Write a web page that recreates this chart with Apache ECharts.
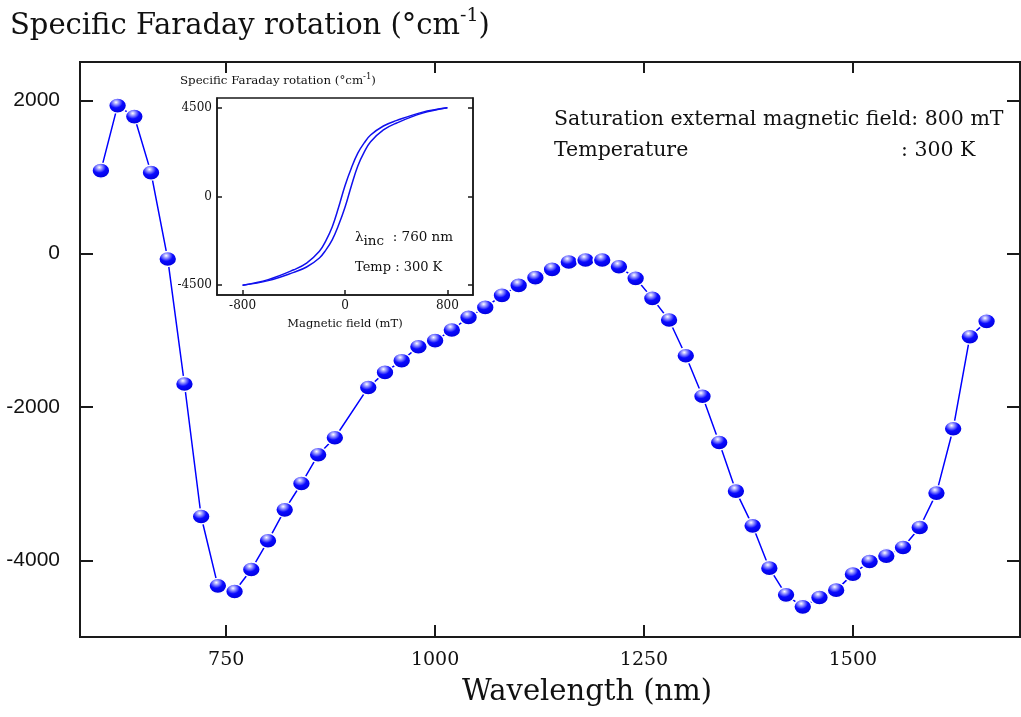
<!DOCTYPE html>
<html>
<head>
<meta charset="utf-8">
<script src="https://cdn.jsdelivr.net/npm/echarts@6.0.0/dist/echarts.min.js"></script>
<style>
  html, body { margin: 0; padding: 0; background: #fff; }
  #chart { width: 1021px; height: 717px; }
</style>
</head>
<body>
<div id="chart"></div>
<script>
// main spectrum: wavelength (nm) vs specific Faraday rotation (deg/cm)
const wavelengths = [600, 620, 640, 660, 680, 700, 720, 740, 760, 780, 800, 820, 840, 860, 880,
  920, 940, 960, 980, 1000, 1020, 1040, 1060, 1080, 1100, 1120, 1140, 1160, 1180, 1200,
  1220, 1240, 1260, 1280, 1300, 1320, 1340, 1360, 1380, 1400, 1420, 1440, 1460, 1480, 1500,
  1520, 1540, 1560, 1580, 1600, 1620, 1640, 1660]
const rotation = [1083, 1931, 1788, 1057, -69, -1700, -3428, -4333, -4407, -4120, -3745, -3341, -2998, -2623, -2401,
  -1745, -1549, -1396, -1214, -1135, -996, -831, -701, -544, -414, -313, -205, -108, -82, -82,
  -170, -322, -583, -865, -1331, -1860, -2463, -3097, -3550, -4102, -4450, -4607, -4485, -4389, -4180,
  -4015, -3945, -3833, -3572, -3123, -2284, -1083, -883]

// inset hysteresis loop
const field = [-800, -600, -400, -300, -200, -150, -100, -50, 0, 50, 100, 150, 200, 300, 400, 600, 800]
const branchDown = [-4500, -4220, -3720, -3380, -2780, -2250, -1550, -550, 550, 1450, 2200, 2720, 3120, 3580, 3850, 4270, 4500]
const branchUp = [-4500, -4270, -3850, -3580, -3120, -2720, -2200, -1450, -550, 550, 1550, 2250, 2780, 3380, 3720, 4220, 4500]

const xTicks = [750, 1000, 1250, 1500]
const yTicks = [-4000, -2000, 0, 2000]
const insetXTicks = [-800, 0, 800]
const insetYTicks = [-4500, 0, 4500]

const serif = 'DejaVu Serif'
const sans = 'Liberation Sans'
const frame = '#1a1a1a'
const plain = (v) => String(v)

const pair = (xs, ys) => xs.map((x, i) => [x, ys[i]])

const ball = new echarts.graphic.RadialGradient(0.42, 0.3, 0.75, [
  { offset: 0, color: '#ffffff' },
  { offset: 0.18, color: '#9a9aff' },
  { offset: 0.45, color: '#0a0aff' },
  { offset: 0.85, color: '#0000dd' },
  { offset: 1, color: '#00007a' },
])

const chart = echarts.init(document.getElementById('chart'))

const option = {
  animation: false,
  backgroundColor: '#fff',
  title: {
    text: '{a|Specific Faraday rotation (°cm}{s|-1}{a|)}',
    left: 5,
    top: 2,
    textStyle: {
      fontWeight: 'normal',
      rich: {
        a: { fontFamily: serif, fontSize: 29, fontWeight: 'normal', color: '#111' },
        s: { fontFamily: serif, fontSize: 19, fontWeight: 'normal', color: '#111', padding: [0, 0, 20, 0] },
      },
    },
  },
  grid: [
    { left: 80, top: 62, width: 940, height: 575, show: true, borderColor: frame, borderWidth: 2 },
    { left: 217, top: 98, width: 256, height: 197, show: true, borderColor: frame, borderWidth: 1.5, backgroundColor: '#fff' },
  ],
  xAxis: [
    {
      gridIndex: 0, type: 'value', min: 575, max: 1700,
      axisLine: { onZero: false, lineStyle: { color: frame, width: 2 } },
      axisTick: { inside: true, length: 12, customValues: xTicks, lineStyle: { color: frame, width: 2 } },
      axisLabel: { customValues: xTicks, formatter: plain, fontFamily: serif, fontSize: 19, color: '#111', margin: 14 },
      splitLine: { show: false },
    },
    {
      gridIndex: 0, type: 'value', min: 575, max: 1700, position: 'top',
      axisLine: { onZero: false, lineStyle: { color: frame, width: 2 } },
      axisTick: { inside: true, length: 11, customValues: xTicks, lineStyle: { color: frame, width: 2 } },
      axisLabel: { show: false },
      splitLine: { show: false },
    },
    {
      gridIndex: 1, type: 'value', min: -1000, max: 1000,
      name: 'Magnetic field (mT)', nameLocation: 'middle', nameGap: 23,
      nameTextStyle: { fontFamily: serif, fontSize: 11.5, color: '#111' },
      axisLine: { onZero: false, lineStyle: { color: frame, width: 1.5 } },
      axisTick: { inside: true, length: 5, customValues: insetXTicks, lineStyle: { color: frame, width: 1.5 } },
      axisLabel: { customValues: insetXTicks, formatter: plain, fontFamily: serif, fontSize: 12, color: '#111', margin: 5 },
      splitLine: { show: false },
    },
  ],
  yAxis: [
    {
      gridIndex: 0, type: 'value', min: -5000, max: 2500,
      axisLine: { show: true, onZero: false, lineStyle: { color: frame, width: 2 } },
      axisTick: { show: true, inside: true, length: 13, customValues: yTicks, lineStyle: { color: frame, width: 2 } },
      axisLabel: { customValues: yTicks, formatter: plain, fontFamily: sans, fontSize: 21, color: '#111', margin: 20 },
      splitLine: { show: false },
    },
    {
      gridIndex: 0, type: 'value', min: -5000, max: 2500, position: 'right',
      axisLine: { show: true, onZero: false, lineStyle: { color: frame, width: 2 } },
      axisTick: { show: true, inside: true, length: 13, customValues: yTicks, lineStyle: { color: frame, width: 2 } },
      axisLabel: { show: false },
      splitLine: { show: false },
    },
    {
      gridIndex: 1, type: 'value', min: -5000, max: 5000,
      axisLine: { show: true, onZero: false, lineStyle: { color: frame, width: 1.5 } },
      axisTick: { show: true, inside: true, length: 5, customValues: insetYTicks, lineStyle: { color: frame, width: 1.5 } },
      axisLabel: { customValues: insetYTicks, formatter: plain, fontFamily: serif, fontSize: 12, color: '#111', margin: 5 },
      splitLine: { show: false },
    },
    {
      gridIndex: 1, type: 'value', min: -5000, max: 5000, position: 'right',
      axisLine: { show: true, onZero: false, lineStyle: { color: frame, width: 1.5 } },
      axisTick: { show: true, inside: true, length: 5, customValues: insetYTicks, lineStyle: { color: frame, width: 1.5 } },
      axisLabel: { show: false },
      splitLine: { show: false },
    },
  ],
  series: [
    {
      type: 'line',
      xAxisIndex: 0,
      yAxisIndex: 0,
      data: pair(wavelengths, rotation),
      symbol: 'circle',
      symbolSize: [18, 15],
      showAllSymbol: true,
      lineStyle: { color: '#0000ff', width: 1.5 },
      itemStyle: { color: ball, borderColor: '#fff', borderWidth: 1.5 },
      z: 3,
    },
    {
      type: 'line',
      xAxisIndex: 2,
      yAxisIndex: 2,
      data: pair(field, branchDown),
      smooth: 0.4,
      symbol: 'none',
      lineStyle: { color: '#1010ee', width: 1.5 },
    },
    {
      type: 'line',
      xAxisIndex: 2,
      yAxisIndex: 2,
      data: pair(field, branchUp),
      smooth: 0.4,
      symbol: 'none',
      lineStyle: { color: '#1010ee', width: 1.5 },
    },
  ],
  graphic: [
    {
      type: 'text', x: 587, y: 692,
      style: { text: 'Wavelength (nm)', font: `29px "${serif}"`, fill: '#111', textAlign: 'center', textVerticalAlign: 'middle' },
    },
    {
      type: 'text', x: 554, y: 120,
      style: { text: 'Saturation external magnetic field: 800 mT', font: `20.5px "${serif}"`, fill: '#111', textVerticalAlign: 'middle' },
    },
    {
      type: 'text', x: 554, y: 151,
      style: { text: 'Temperature', font: `20.5px "${serif}"`, fill: '#111', textVerticalAlign: 'middle' },
    },
    {
      type: 'text', x: 901, y: 151,
      style: { text: ': 300 K', font: `20.5px "${serif}"`, fill: '#111', textVerticalAlign: 'middle' },
    },
    {
      type: 'text', x: 180, y: 81, z: 10,
      style: {
        text: '{a|Specific Faraday rotation (°cm}{s|-1}{a|)}',
        textVerticalAlign: 'middle',
        rich: {
          a: { fontFamily: serif, fontSize: 11.8, fill: '#111' },
          s: { fontFamily: serif, fontSize: 8.5, fill: '#111', padding: [0, 0, 9, 0] },
        },
      },
    },
    {
      type: 'text', x: 355, y: 237, z: 10,
      style: {
        text: '{a|λ}{b|inc}{a|  : 760 nm}',
        textVerticalAlign: 'middle',
        rich: {
          a: { fontFamily: serif, fontSize: 13.5, fill: '#111' },
          b: { fontFamily: serif, fontSize: 13.5, fill: '#111', padding: [8, 0, 0, 0] },
        },
      },
    },
    {
      type: 'text', x: 355, y: 268, z: 10,
      style: { text: 'Temp : 300 K', font: `13px "${serif}"`, fill: '#111', textVerticalAlign: 'middle' },
    },
  ],
}

chart.setOption(option)
</script>
</body>
</html>
